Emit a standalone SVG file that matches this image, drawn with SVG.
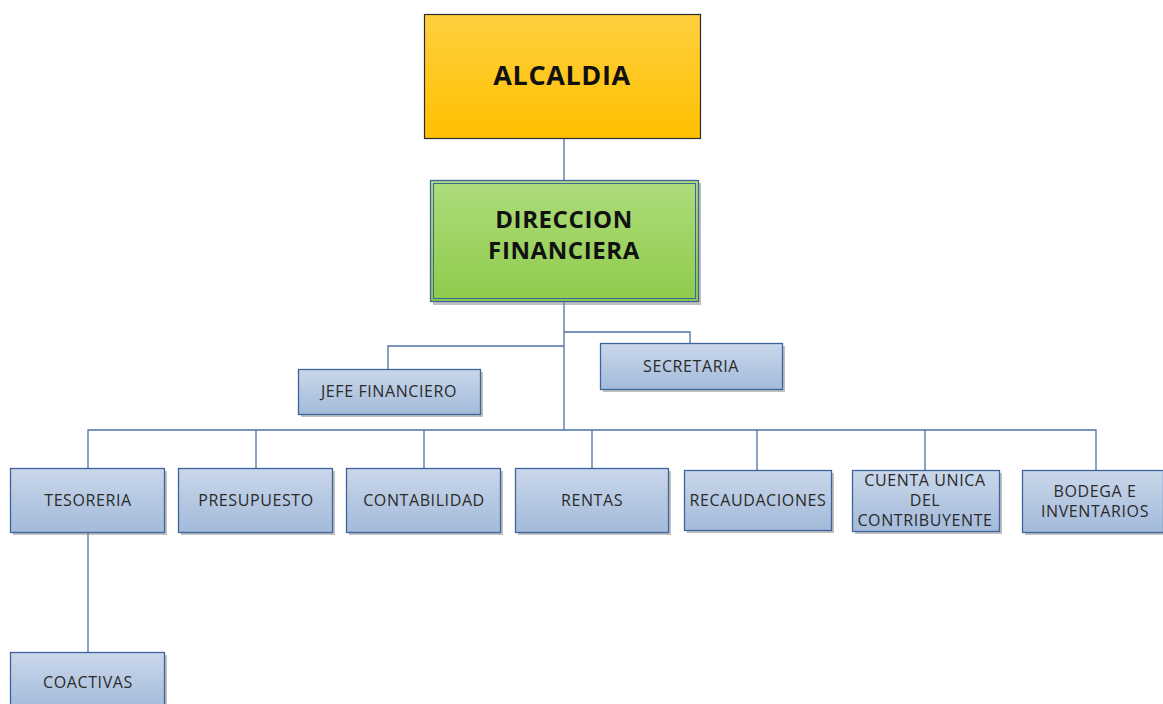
<svg xmlns="http://www.w3.org/2000/svg" width="1163" height="704" viewBox="0 0 1163 704">
  <defs>
    <linearGradient id="gYellow" x1="0" y1="0" x2="0" y2="1">
      <stop offset="0" stop-color="#FFD03F"/>
      <stop offset="1" stop-color="#FFC000"/>
    </linearGradient>
    <linearGradient id="gGreen" x1="0" y1="0" x2="0" y2="1">
      <stop offset="0" stop-color="#AEDC7C"/>
      <stop offset="1" stop-color="#8FCB4B"/>
    </linearGradient>
    <linearGradient id="gBlue" x1="0" y1="0" x2="0" y2="1">
      <stop offset="0" stop-color="#C9D7EA"/>
      <stop offset="1" stop-color="#A3BADA"/>
    </linearGradient>
  </defs>
  <style>
    .box { fill: url(#gBlue); stroke: #3E659B; stroke-width: 1.3; }
    .shadow { fill: #8C8C8C; opacity: 0.55; }
    .lbl { font-family: "Open Sans", "Liberation Sans", sans-serif; font-size: 16px; letter-spacing: 0.6px; fill: #2A2A2A; text-anchor: middle; }
    .big { font-family: "Open Sans", "Liberation Sans", sans-serif; font-weight: bold; fill: #111111; text-anchor: middle; letter-spacing: 0.6px; }
    .conn { fill: none; stroke: #4C70A3; stroke-width: 1.3; }
  </style>

  <!-- connectors -->
  <g id="connectors">
    <path class="conn" d="M564 138 V180"/>
    <path class="conn" d="M564 302 V430"/>
    <path class="conn" d="M564 332 H690 V343"/>
    <path class="conn" d="M564 346 H388 V369"/>
    <path class="conn" d="M88 468 V430 H1096 V470"/>
    <path class="conn" d="M256 430 V468"/>
    <path class="conn" d="M424 430 V468"/>
    <path class="conn" d="M592 430 V468"/>
    <path class="conn" d="M757 430 V470"/>
    <path class="conn" d="M925 430 V470"/>
    <path class="conn" d="M88 532 V652"/>
  </g>

  <g id="alcaldia">
    <rect x="424.5" y="14.5" width="276" height="124" fill="url(#gYellow)" stroke="#2B2B2B" stroke-width="1.2"/>
    <text class="big" x="562" y="85" font-size="27">ALCALDIA</text>
  </g>

  <g id="direccion-financiera">
    <rect x="433" y="183" width="268" height="122" class="shadow"/>
    <rect x="430.5" y="180.5" width="268" height="121" fill="url(#gGreen)" stroke="#3E659B" stroke-width="1.3"/>
    <rect x="433.5" y="183.5" width="262" height="115" fill="none" stroke="#3E659B" stroke-width="1"/>
    <text class="big" x="564" y="228" font-size="24">DIRECCION</text>
    <text class="big" x="564" y="259" font-size="24">FINANCIERA</text>
  </g>

  <g id="jefe-financiero">
    <rect x="301" y="372" width="182" height="45" class="shadow"/>
    <rect x="298.5" y="369.5" width="182" height="45" class="box"/>
    <text class="lbl" x="389" y="397">JEFE FINANCIERO</text>
  </g>

  <g id="secretaria">
    <rect x="603" y="346" width="182" height="46" class="shadow"/>
    <rect x="600.5" y="343.5" width="182" height="46" class="box"/>
    <text class="lbl" x="691" y="372">SECRETARIA</text>
  </g>

  <g id="tesoreria">
    <rect x="13" y="471" width="154" height="64" class="shadow"/>
    <rect x="10.5" y="468.5" width="154" height="64" class="box"/>
    <text class="lbl" x="88" y="506">TESORERIA</text>
  </g>

  <g id="presupuesto">
    <rect x="181" y="471" width="154" height="64" class="shadow"/>
    <rect x="178.5" y="468.5" width="154" height="64" class="box"/>
    <text class="lbl" x="256" y="506">PRESUPUESTO</text>
  </g>

  <g id="contabilidad">
    <rect x="349" y="471" width="154" height="64" class="shadow"/>
    <rect x="346.5" y="468.5" width="154" height="64" class="box"/>
    <text class="lbl" x="424" y="506">CONTABILIDAD</text>
  </g>

  <g id="rentas">
    <rect x="518" y="471" width="153" height="64" class="shadow"/>
    <rect x="515.5" y="468.5" width="153" height="64" class="box"/>
    <text class="lbl" x="592" y="506">RENTAS</text>
  </g>

  <g id="recaudaciones">
    <rect x="687" y="473" width="147" height="60" class="shadow"/>
    <rect x="684.5" y="470.5" width="147" height="60" class="box"/>
    <text class="lbl" x="758" y="506">RECAUDACIONES</text>
  </g>

  <g id="cuenta-unica">
    <rect x="855" y="473" width="147" height="61" class="shadow"/>
    <rect x="852.5" y="470.5" width="147" height="61" class="box"/>
    <text class="lbl" x="925" y="486">CUENTA UNICA</text>
    <text class="lbl" x="925" y="506">DEL</text>
    <text class="lbl" x="925" y="526">CONTRIBUYENTE</text>
  </g>

  <g id="bodega-inventarios">
    <rect x="1025" y="473" width="141" height="62" class="shadow"/>
    <rect x="1022.5" y="470.5" width="141" height="62" class="box"/>
    <text class="lbl" x="1095" y="497">BODEGA E</text>
    <text class="lbl" x="1095" y="517">INVENTARIOS</text>
  </g>

  <g id="coactivas">
    <rect x="13" y="655" width="154" height="60" class="shadow"/>
    <rect x="10.5" y="652.5" width="154" height="60" class="box"/>
    <text class="lbl" x="88" y="688">COACTIVAS</text>
  </g>
</svg>
